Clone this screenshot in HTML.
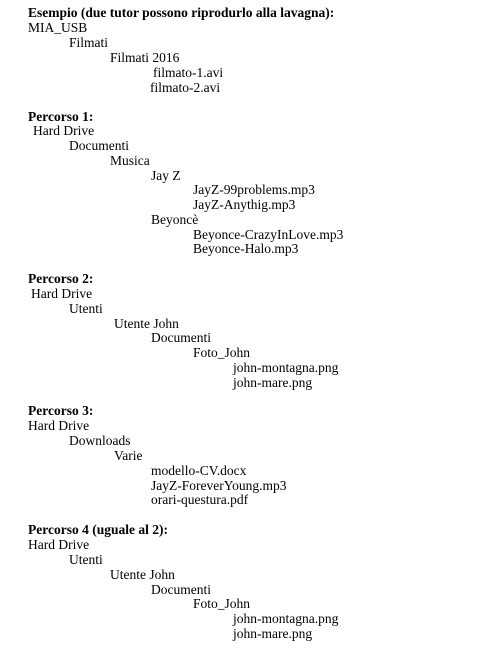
<!DOCTYPE html>
<html><head><meta charset="utf-8"><style>
body{margin:0;width:481px;height:655px;background:#fff;position:relative;overflow:hidden;font-family:"Liberation Serif",serif;font-size:13.5px;color:#000}
div{position:absolute;line-height:16px;white-space:pre}
b{font-weight:bold}
</style></head><body>
<div style="left:28px;top:5px"><b>Esempio (due tutor possono riprodurlo alla lavagna):</b></div>
<div style="left:28px;top:20px">MIA_USB</div>
<div style="left:69px;top:35px">Filmati</div>
<div style="left:110px;top:50px">Filmati 2016</div>
<div style="left:153px;top:65px">filmato-1.avi</div>
<div style="left:150px;top:80px">filmato-2.avi</div>

<div style="left:28px;top:109px"><b>Percorso 1:</b></div>
<div style="left:33px;top:123px">Hard Drive</div>
<div style="left:69px;top:138px">Documenti</div>
<div style="left:110px;top:153px">Musica</div>
<div style="left:151px;top:168px">Jay Z</div>
<div style="left:193px;top:182px">JayZ-99problems.mp3</div>
<div style="left:193px;top:197px">JayZ-Anythig.mp3</div>
<div style="left:151px;top:212px">Beyoncè</div>
<div style="left:193px;top:227px">Beyonce-CrazyInLove.mp3</div>
<div style="left:193px;top:241px">Beyonce-Halo.mp3</div>

<div style="left:28px;top:271px"><b>Percorso 2:</b></div>
<div style="left:31px;top:286px">Hard Drive</div>
<div style="left:69px;top:301px">Utenti</div>
<div style="left:114px;top:316px">Utente John</div>
<div style="left:151px;top:330px">Documenti</div>
<div style="left:193px;top:345px">Foto_John</div>
<div style="left:233px;top:360px">john-montagna.png</div>
<div style="left:233px;top:375px">john-mare.png</div>

<div style="left:28px;top:403px"><b>Percorso 3:</b></div>
<div style="left:28px;top:418px">Hard Drive</div>
<div style="left:69px;top:433px">Downloads</div>
<div style="left:114px;top:448px">Varie</div>
<div style="left:151px;top:463px">modello-CV.docx</div>
<div style="left:151px;top:478px">JayZ-ForeverYoung.mp3</div>
<div style="left:151px;top:492px">orari-questura.pdf</div>

<div style="left:28px;top:522px"><b>Percorso 4 (uguale al 2):</b></div>
<div style="left:28px;top:537px">Hard Drive</div>
<div style="left:69px;top:552px">Utenti</div>
<div style="left:110px;top:567px">Utente John</div>
<div style="left:151px;top:582px">Documenti</div>
<div style="left:193px;top:596px">Foto_John</div>
<div style="left:233px;top:611px">john-montagna.png</div>
<div style="left:233px;top:626px">john-mare.png</div>
</body></html>
